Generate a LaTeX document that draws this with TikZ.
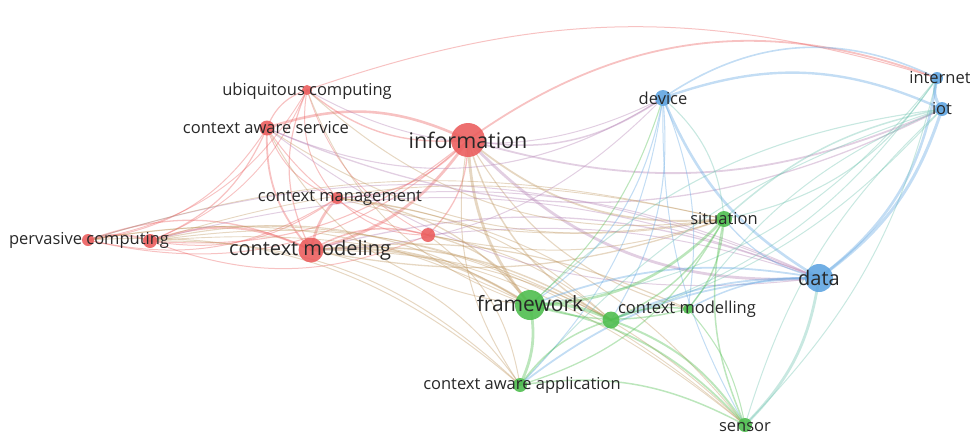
\documentclass[tikz,border=0pt]{standalone}
\usepackage{fontspec}
\setmainfont{Open Sans}
\usetikzlibrary{backgrounds}
\definecolor{cr}{RGB}{235,95,95}
\definecolor{cb}{RGB}{96,165,225}
\definecolor{cg}{RGB}{80,190,80}
\definecolor{crg}{RGB}{190,150,95}
\definecolor{crb}{RGB}{180,130,180}
\definecolor{cgb}{RGB}{110,195,175}
\definecolor{txt}{RGB}{40,40,40}
\tikzset{
  vtx/.style={circle, inner sep=0pt, fill opacity=.9},
  lab/.style={text=txt, inner sep=0pt, font=\fontsize{16.5}{17}\selectfont},
  biglab/.style={text=txt, inner sep=0pt, font=\fontsize{20}{21}\selectfont},
  edge/.style={line cap=round, draw opacity=.38}
}
\begin{document}
\begin{tikzpicture}[x=1pt,y=-1pt]
\useasboundingbox (0,0) rectangle (970,434);
% vertices
\node[vtx, fill=cr, minimum size=10] (u) at (307,90) {};
\node[vtx, fill=cr, minimum size=15] (s) at (267,128) {};
\node[vtx, fill=cr, minimum size=34] (i) at (468,140) {};
\node[vtx, fill=cr, minimum size=12] (m) at (337,198) {};
\node[vtx, fill=cr, minimum size=14] (r) at (428,235) {};
\node[vtx, fill=cr, minimum size=12] (p) at (88,240) {};
\node[vtx, fill=cr, minimum size=14] (p2) at (150,241) {};
\node[vtx, fill=cr, minimum size=25] (c) at (311,250) {};
\node[vtx, fill=cb, minimum size=16] (d) at (663,98) {};
\node[vtx, fill=cb, minimum size=12] (n) at (937,78) {};
\node[vtx, fill=cb, minimum size=14] (t) at (942,109) {};
\node[vtx, fill=cg, minimum size=16] (si) at (724,219) {};
\node[vtx, fill=cb, minimum size=28] (da) at (819,278) {};
\node[vtx, fill=cg, minimum size=30] (f) at (530,305) {};
\node[vtx, fill=cg, minimum size=17] (g) at (611,320) {};
\node[vtx, fill=cg, minimum size=10] (cm) at (688,309) {};
\node[vtx, fill=cg, minimum size=14] (a) at (520,385) {};
\node[vtx, fill=cg, minimum size=14] (se) at (745,425) {};
% edges
\begin{pgfonlayer}{background}
\foreach \x/\y/\c/\w/\bd in {
 u/s/cr/1.2/-25, u/i/cr/1.4/-22, u/m/cr/1/-25, u/c/cr/1.2/-25, u/p/cr/.9/25, u/p2/cr/.9/22, u/r/cr/.9/-22,
 s/i/cr/2.6/22, s/m/cr/1/-25, s/c/cr/1.8/-22, s/p/cr/1/25, s/p2/cr/1.2/22, s/r/cr/1/-22,
 i/m/cr/1.3/22, i/c/cr/2.8/20, i/r/cr/1.3/22, i/p2/cr/1.1/22, i/p/cr/1/28,
 m/c/cr/2.6/-15, m/r/cr/1/-22, m/p/cr/1/22, m/p2/cr/1/22,
 c/p/cr/1.3/-22, c/p2/cr/2.2/-22, c/r/cr/1.6/22, p/p2/cr/2/18, r/p2/cr/1/22,
 i/d/crb/1.5/-22, i/da/crb/2.8/-25, i/si/crg/1.8/-22, i/f/crg/2.8/-18, i/g/crg/1.5/-22, i/cm/crg/1.1/-22,
 i/a/crg/1/-22, i/t/crb/1.8/-20, i/n/cr/1.8/28,
 c/f/crg/2.2/18, c/g/crg/1.5/18, c/a/crg/1/22, c/da/crb/1.3/18, c/si/crg/1.3/-15, c/se/crg/1/22, c/cm/crg/1.2/15,
 s/f/crg/1/-28, s/d/crb/1.1/-28, s/t/crb/1.3/-25, u/n/cr/1/18, u/d/crb/1/-28, s/si/crg/1/-22, s/da/crb/1/-22,
 u/si/crg/1/-25, u/f/crg/.9/-25,
 p/f/crg/1/18, p/a/crg/1/22, p/da/crb/1/20, p/se/crg/.9/25, p/si/crg/.9/15,
 p2/f/crg/1.1/22, p2/g/crg/1/18, p2/da/crb/1/18, p2/si/crg/.9/15, p2/a/crg/1/22, p2/se/crg/.9/22,
 m/f/crg/1.3/22, m/g/crg/1/18, m/se/crg/1/22, m/da/crb/1/15, m/si/crg/1/-12,
 r/f/crg/1.3/22, r/g/crg/1/15, r/si/crg/1/-15, r/a/crg/1/22, r/da/crb/1/12,
 d/n/cb/1.6/30, d/t/cb/2.4/22, d/da/cb/2.6/-18, d/si/cgb/1.1/22, d/f/cb/1.1/22, d/g/cb/1.1/18, d/cm/cb/1/15,
 d/a/cb/1/18, d/se/cb/1/-15, d/c/crb/1/22,
 n/t/cb/3/-30, n/da/cb/2.6/22, n/si/cgb/1.1/22, n/f/cgb/1/22, n/g/cgb/1/18, n/se/cgb/1/15,
 t/da/cb/3/18, t/si/cgb/1.5/-15, t/f/cgb/1.1/-18, t/cm/cgb/1/-15, t/se/cgb/1/-15, t/g/cgb/1/15, t/a/cgb/1/-15,
 da/si/cb/1.3/18, da/f/cb/1.8/-15, da/g/cb/1.8/-12, da/cm/cb/1.5/-15, da/a/cb/1.8/-18, da/se/cgb/2.8/18,
 f/g/cg/3/15, f/a/cg/2.8/18, f/cm/cg/1.5/-15, f/si/cg/2.6/-22, f/se/cg/1.8/18,
 g/cm/cg/1.5/15, g/a/cg/1.5/-18, g/si/cg/1.5/-18, g/se/cg/2/18,
 si/cm/cg/1.5/18, si/se/cg/1.5/-18, si/a/cg/1.3/22, cm/se/cg/1.1/15, a/se/cg/1.5/18, f/d/cg/1.1/-15
}{
 \draw[edge, draw=\c, line width=\w] (\x.center) to[bend left=\bd] (\y.center);
}
\end{pgfonlayer}
% labels
\node[lab] (ul) at (307,91) {ubiquitous computing};
\node[lab] (sl) at (266,128) {context aware service};
\node[text=txt, inner sep=0pt, font=\fontsize{21.5}{22}\selectfont] (il) at (468,140) {information};
\node[lab] (ml) at (340,198) {context management};
\node[lab] (pl) at (89,240) {pervasive computing};
\node[biglab] (cl) at (310,250) {context modeling};
\node[lab] (dl) at (663,98) {device};
\node[lab] (nl) at (940,78) {internet};
\node[lab] (tl) at (942,109) {iot};
\node[lab] (sil) at (724,219) {situation};
\node[biglab] (dal) at (819,278) {data};
\node[biglab, font=\fontsize{21}{22}\selectfont] (fl) at (530,304) {framework};
\node[lab] (cml) at (687,309) {context modelling};
\node[lab] (al) at (522,385) {context aware application};
\node[lab] (sel) at (745,427) {sensor};
\end{tikzpicture}
\end{document}
